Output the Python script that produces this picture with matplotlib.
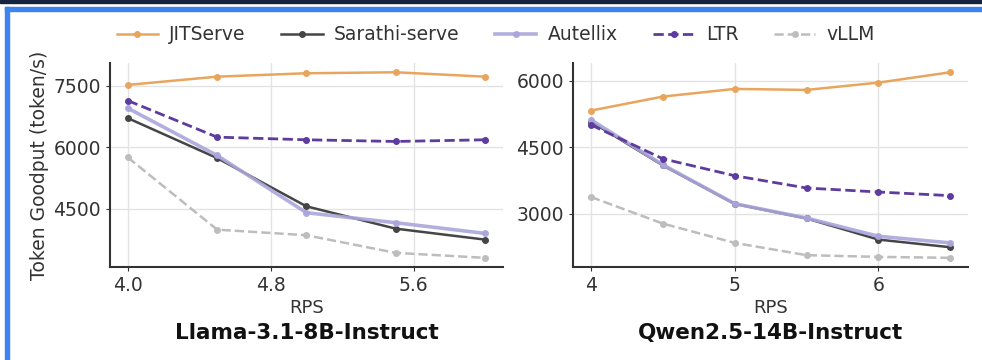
import matplotlib
matplotlib.use("Agg")
import matplotlib.pyplot as plt
from matplotlib.patches import Rectangle

# --- data ---
systems = ["JITServe", "Sarathi-serve", "Autellix", "LTR", "vLLM"]

llama_rps = [4.0, 4.5, 5.0, 5.5, 6.0]
llama_jitserve = [7525, 7727, 7810, 7834, 7727]
llama_sarathi = [6712, 5736, 4556, 4010, 3742]
llama_autellix = [6956, 5800, 4400, 4155, 3894]
llama_ltr = [7141, 6248, 6183, 6142, 6183]
llama_vllm = [5750, 3986, 3849, 3418, 3296]

qwen_rps = [4.0, 4.5, 5.0, 5.5, 6.0, 6.5]
qwen_jitserve = [5330, 5646, 5820, 5797, 5962, 6196]
qwen_sarathi = [5080, 4090, 3220, 2890, 2413, 2240]
qwen_autellix = [5120, 4104, 3225, 2900, 2488, 2338]
qwen_ltr = [5007, 4240, 3857, 3579, 3489, 3406]
qwen_vllm = [3376, 2775, 2338, 2060, 2022, 2000]

llama_xticks = [4.0, 4.8, 5.6]
qwen_xticks = [4, 5, 6]
llama_yticks = [4500, 6000, 7500]
qwen_yticks = [3000, 4500, 6000]

styles = {
    "JITServe": dict(color="#e8a55e", ls="-", lw=1.8, alpha=1.0),
    "Sarathi-serve": dict(color="#454545", ls="-", lw=1.8, alpha=1.0),
    "Autellix": dict(color="#aaa6dc", ls="-", lw=2.6, alpha=0.9),
    "LTR": dict(color="#5e3c9e", ls="--", lw=2.0, alpha=1.0),
    "vLLM": dict(color="#bdbdbd", ls="--", lw=1.8, alpha=1.0),
}

plt.rcParams["font.family"] = ["DejaVu Sans"]

fig = plt.figure(figsize=(9.82, 3.6), dpi=100)
ax1 = fig.add_axes([0.112, 0.258, 0.400, 0.567])
ax2 = fig.add_axes([0.5835, 0.258, 0.4025, 0.567])

panels = [
    (ax1, llama_rps, [llama_jitserve, llama_sarathi, llama_autellix, llama_ltr, llama_vllm],
     llama_xticks, ["4.0", "4.8", "5.6"], llama_yticks, "Llama-3.1-8B-Instruct"),
    (ax2, qwen_rps, [qwen_jitserve, qwen_sarathi, qwen_autellix, qwen_ltr, qwen_vllm],
     qwen_xticks, ["4", "5", "6"], qwen_yticks, "Qwen2.5-14B-Instruct"),
]

handles = []
for ax, xs, series, xt, xtl, yt, title in panels:
    for name, ys in zip(systems, series):
        st = styles[name]
        h, = ax.plot(xs, ys, marker="o", ms=4, label=name, color=st["color"],
                     ls=st["ls"], lw=st["lw"], alpha=st["alpha"])
        if ax is ax1:
            handles.append(h)
    ax.set_xticks(xt)
    ax.set_xticklabels(xtl)
    ax.set_yticks(yt)
    ax.grid(True, color="#e3e3e3", lw=1.0)
    ax.set_axisbelow(True)
    for s in ["top", "right"]:
        ax.spines[s].set_visible(False)
    for s in ["left", "bottom"]:
        ax.spines[s].set_color("#333333")
        ax.spines[s].set_linewidth(1.5)
    ax.tick_params(labelsize=13.5, colors="#333333", length=3)
    ax.set_xlabel("RPS", fontsize=13, color="#333333", labelpad=3)
    ax.text(0.5, -0.325, title, transform=ax.transAxes, ha="center", va="center",
            fontsize=15.5, fontweight="bold", color="#111111")

ax1.set_ylabel("Token Goodput (token/s)", fontsize=13.5, color="#333333", labelpad=3)

fig.legend(handles=handles, labels=systems, loc="center", bbox_to_anchor=(0.505, 0.903),
           ncol=5, frameon=False, fontsize=13.5, handlelength=2.2, handletextpad=0.6,
           columnspacing=1.9, labelcolor="#333333")

# screenshot frame
fig.patches.append(Rectangle((0, 1 - 3 / 360), 1, 3 / 360, transform=fig.transFigure,
                             color="#14243f", zorder=10))
fig.patches.append(Rectangle((5 / 982, 1 - 10.5 / 360), 1, 3.5 / 360, transform=fig.transFigure,
                             color="#3d84f0", zorder=10))
fig.patches.append(Rectangle((5 / 982, 0), 3.5 / 982, 1 - 7 / 360, transform=fig.transFigure,
                             color="#3d84f0", zorder=10))

fig.savefig("out.png", dpi=100, facecolor="white")
